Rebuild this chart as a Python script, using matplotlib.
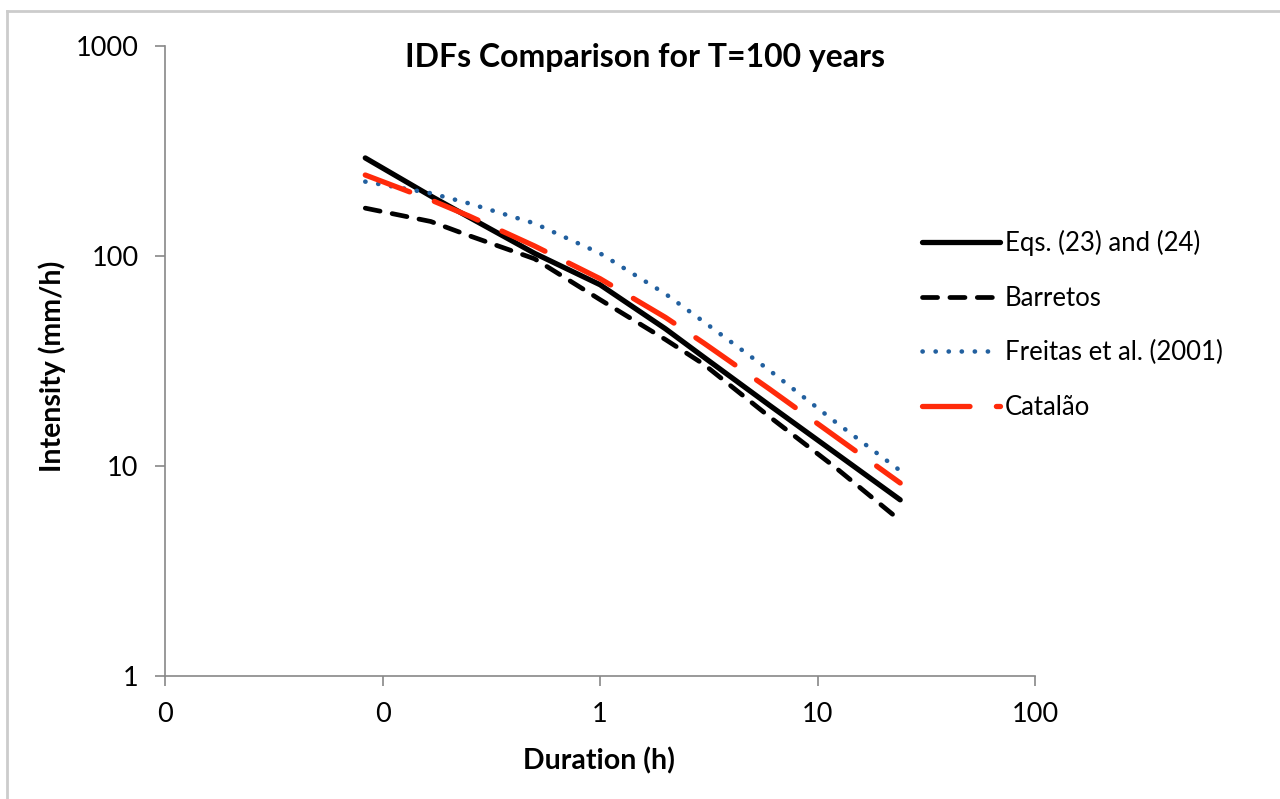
import matplotlib
matplotlib.use("Agg")
import matplotlib.pyplot as plt
from matplotlib.lines import Line2D

plt.rcParams['font.family'] = ['Lato', 'DejaVu Sans']

# Durations in hours
duration_h = [5/60, 10/60, 15/60, 0.5, 1, 2, 3, 6, 12, 24]

eqs = [293, 193, 153, 103, 73, 45, 33, 19.5, 11.6, 6.9]
barretos = [169, 146, 125, 97, 62, 40, 30.5, 17.2, 9.9, 5.5]
freitas = [226, 199, 178, 143, 103, 66, 48.6, 28.6, 16.3, 9.5]
catalao = [243, 185, 155, 111.6, 78, 51, 38.5, 23.3, 13.9, 8.3]

series_names = ["Eqs. (23) and (24)", "Barretos", "Freitas et al. (2001)", "Catalão"]

x_ticks = [0.01, 0.1, 1, 10, 100]
x_tick_labels = ["0", "0", "1", "10", "100"]
y_ticks = [1, 10, 100, 1000]
y_tick_labels = ["1", "10", "100", "1000"]

fig = plt.figure(figsize=(12.80, 7.99), dpi=100)
ax = fig.add_axes([165/1280, 1 - 676/799, (1035-165)/1280, (676-46)/799])

# figure border (top and left visible)
fig.add_artist(Line2D([7/1280, 1.01], [1 - 11/799, 1 - 11/799], transform=fig.transFigure,
                      color='#cccccc', lw=2))
fig.add_artist(Line2D([7/1280, 7/1280], [1 - 11/799, -0.01], transform=fig.transFigure,
                      color='#cccccc', lw=2))

ax.plot(duration_h, eqs, color='black', lw=3.8, solid_capstyle='round', label=series_names[0])
ax.plot(duration_h, barretos, color='black', lw=3.4, dash_capstyle='round',
        linestyle=(0, (3.2, 2.6)), label=series_names[1])
ax.plot(duration_h, freitas, color='#22609F', lw=3.3, dash_capstyle='round',
        linestyle=(0, (0.05, 2.8)), label=series_names[2])
ax.plot(duration_h, catalao, color='#FF2A0A', lw=3.8, dash_capstyle='round',
        linestyle=(0, (9, 5.0)), label=series_names[3])

ax.set_xscale('log')
ax.set_yscale('log')
ax.set_xlim(0.01, 100)
ax.set_ylim(1, 1000)
ax.set_xticks(x_ticks)
ax.set_xticklabels(x_tick_labels)
ax.set_yticks(y_ticks)
ax.set_yticklabels(y_tick_labels)
ax.minorticks_off()

for s in ['top', 'right']:
    ax.spines[s].set_visible(False)
for s in ['left', 'bottom']:
    ax.spines[s].set_color('#888888')
    ax.spines[s].set_linewidth(1.2)
ax.tick_params(axis='both', which='major', direction='out', length=7, width=1.2,
               color='#888888', labelsize=19.5, labelcolor='black')
ax.tick_params(axis='x', pad=12)
ax.tick_params(axis='y', pad=12)

fig.text(599/1280, 1 - 761/799, "Duration (h)", fontsize=20.5, fontweight='bold',
         ha='center', va='center')
fig.text(52/1280, 1 - 366/799, "Intensity (mm/h)", fontsize=20.5, fontweight='bold',
         ha='center', va='center', rotation=90)
fig.text(645/1280, 1 - 57/799, "IDFs Comparison for T=100 years", fontsize=23,
         fontweight='bold', ha='center', va='center')

leg = ax.legend(loc='upper left', bbox_to_anchor=((922-165)/870, 1 - (230-46)/630),
                frameon=False, fontsize=18.5, handlelength=3.03, labelspacing=1.15,
                handletextpad=0.2, borderaxespad=0, borderpad=0)

fig.savefig("out.png", dpi=100)
